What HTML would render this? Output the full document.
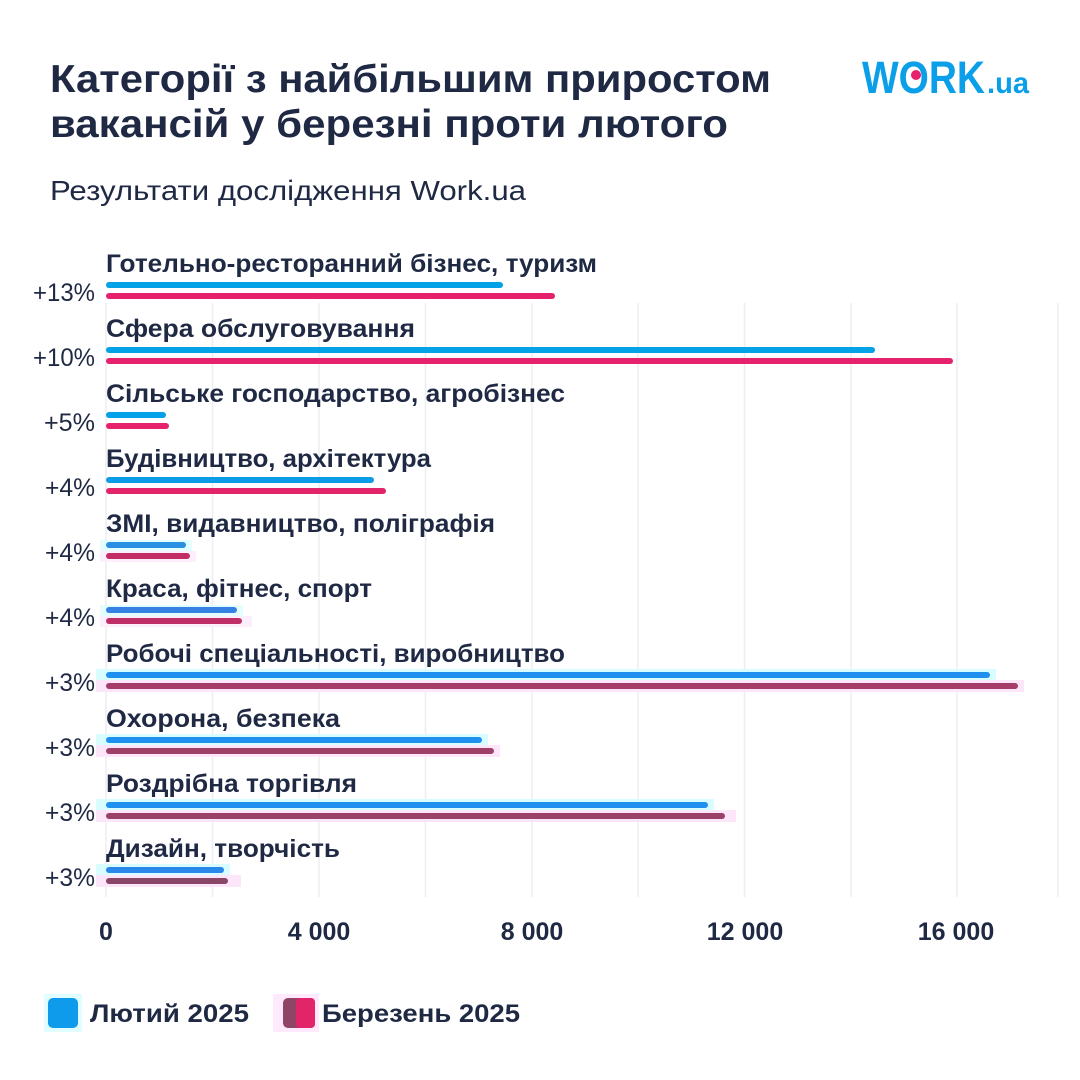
<!DOCTYPE html>
<html>
<head>
<meta charset="utf-8">
<style>
  html,body{margin:0;padding:0;background:#ffffff;}
  svg{display:block;}
  text{font-family:"Liberation Sans","DejaVu Sans",sans-serif;fill:#1f2944;}
</style>
</head>
<body>
<svg width="1080" height="1080" viewBox="0 0 1080 1080" xmlns="http://www.w3.org/2000/svg">
  <rect x="0" y="0" width="1080" height="1080" fill="#ffffff"/>

  <!-- Title -->
  <text x="50" y="92" font-size="39" font-weight="700" textLength="721" lengthAdjust="spacingAndGlyphs">Категорії з найбільшим приростом</text>
  <text x="50" y="137" font-size="39" font-weight="700" textLength="678" lengthAdjust="spacingAndGlyphs">вакансій у березні проти лютого</text>
  <text x="50" y="200" font-size="28" font-weight="400" fill="#27324b" textLength="476" lengthAdjust="spacingAndGlyphs">Результати дослідження Work.ua</text>

  <!-- Logo -->
  <text x="862" y="93" font-size="45" font-weight="700" style="fill:#0a9fe8" textLength="123" lengthAdjust="spacingAndGlyphs">WORK</text>
  <text x="987" y="93" font-size="30" font-weight="700" style="fill:#0a9fe8" textLength="42" lengthAdjust="spacingAndGlyphs">.ua</text>
  <circle cx="916" cy="75" r="5" fill="#e5226b"/>

  <!-- Grid lines -->
  <g stroke="#eeeef1" stroke-width="1.5">
    <line x1="106" y1="303" x2="106" y2="897"/>
    <line x1="212.5" y1="303" x2="212.5" y2="897"/>
    <line x1="319" y1="303" x2="319" y2="897"/>
    <line x1="425.5" y1="303" x2="425.5" y2="897"/>
    <line x1="532" y1="303" x2="532" y2="897"/>
    <line x1="638" y1="303" x2="638" y2="897"/>
    <line x1="744.5" y1="303" x2="744.5" y2="897"/>
    <line x1="851" y1="303" x2="851" y2="897"/>
    <line x1="957" y1="303" x2="957" y2="897"/>
    <line x1="1058" y1="303" x2="1058" y2="897"/>
  </g>

  <!-- Glow bands (rows 5-10) -->
  <g>
    <rect x="100" y="540" width="92" height="11" fill="#e4fdff"/>
    <rect x="100" y="551" width="96" height="11" fill="#fdeefb"/>
    <rect x="100" y="605" width="143" height="11" fill="#e4fdff"/>
    <rect x="100" y="616" width="152" height="11" fill="#fdeefb"/>
    <rect x="96" y="669" width="900" height="11" fill="#d8fcff"/>
    <rect x="96" y="680" width="928" height="12" fill="#fde6fa"/>
    <rect x="96" y="734" width="392" height="11" fill="#d8fcff"/>
    <rect x="96" y="745" width="404" height="12" fill="#fde6fa"/>
    <rect x="96" y="799" width="618" height="11" fill="#d8fcff"/>
    <rect x="96" y="810" width="640" height="12" fill="#fde6fa"/>
    <rect x="96" y="864" width="134" height="11" fill="#d8fcff"/>
    <rect x="96" y="875" width="145" height="12" fill="#fde6fa"/>
  </g>

  <!-- Bars -->
  <g>
    <!-- row 1 -->
    <rect x="106" y="282" width="397" height="6" rx="3" fill="#03a1e6"/>
    <rect x="106" y="293" width="449" height="6" rx="3" fill="#e5226b"/>
    <!-- row 2 -->
    <rect x="106" y="347" width="769" height="6" rx="3" fill="#03a1e6"/>
    <rect x="106" y="358" width="847" height="6" rx="3" fill="#e5226b"/>
    <!-- row 3 -->
    <rect x="106" y="412" width="60" height="6" rx="3" fill="#03a1e6"/>
    <rect x="106" y="423" width="63" height="6" rx="3" fill="#e5226b"/>
    <!-- row 4 -->
    <rect x="106" y="477" width="268" height="6" rx="3" fill="#0a9de6"/>
    <rect x="106" y="488" width="280" height="6" rx="3" fill="#e2246a"/>
    <!-- row 5 -->
    <rect x="106" y="542" width="80" height="6" rx="3" fill="#2a8fe2"/>
    <rect x="106" y="553" width="84" height="6" rx="3" fill="#c22d66"/>
    <!-- row 6 -->
    <rect x="106" y="607" width="131" height="6" rx="3" fill="#3582e2"/>
    <rect x="106" y="618" width="136" height="6" rx="3" fill="#bf2f67"/>
    <!-- row 7 -->
    <rect x="106" y="672" width="884" height="6" rx="3" fill="#1e90ee"/>
    <rect x="106" y="683" width="912" height="6" rx="3" fill="#a63d68"/>
    <!-- row 8 -->
    <rect x="106" y="737" width="376" height="6" rx="3" fill="#1e90ee"/>
    <rect x="106" y="748" width="388" height="6" rx="3" fill="#9e4068"/>
    <!-- row 9 -->
    <rect x="106" y="802" width="602" height="6" rx="3" fill="#1e90ee"/>
    <rect x="106" y="813" width="619" height="6" rx="3" fill="#9a4168"/>
    <!-- row 10 -->
    <rect x="106" y="867" width="118" height="6" rx="3" fill="#2a88ea"/>
    <rect x="106" y="878" width="122" height="6" rx="3" fill="#8a4666"/>
  </g>

  <!-- Category labels -->
  <g font-size="25" font-weight="700">
    <text x="106" y="272" textLength="491" lengthAdjust="spacingAndGlyphs">Готельно-ресторанний бізнес, туризм</text>
    <text x="106" y="337" textLength="309" lengthAdjust="spacingAndGlyphs">Сфера обслуговування</text>
    <text x="106" y="402" textLength="459" lengthAdjust="spacingAndGlyphs">Сільське господарство, агробізнес</text>
    <text x="106" y="467" textLength="325" lengthAdjust="spacingAndGlyphs">Будівництво, архітектура</text>
    <text x="106" y="532" textLength="389" lengthAdjust="spacingAndGlyphs">ЗМІ, видавництво, поліграфія</text>
    <text x="106" y="597" textLength="266" lengthAdjust="spacingAndGlyphs">Краса, фітнес, спорт</text>
    <text x="106" y="662" textLength="459" lengthAdjust="spacingAndGlyphs">Робочі спеціальності, виробництво</text>
    <text x="106" y="727" textLength="234" lengthAdjust="spacingAndGlyphs">Охорона, безпека</text>
    <text x="106" y="792" textLength="251" lengthAdjust="spacingAndGlyphs">Роздрібна торгівля</text>
    <text x="106" y="857" textLength="234" lengthAdjust="spacingAndGlyphs">Дизайн, творчість</text>
  </g>

  <!-- Percent labels -->
  <g font-size="25" font-weight="400">
    <text x="33" y="301" textLength="62" lengthAdjust="spacingAndGlyphs">+13%</text>
    <text x="33" y="366" textLength="62" lengthAdjust="spacingAndGlyphs">+10%</text>
    <text x="44" y="431" textLength="51" lengthAdjust="spacingAndGlyphs">+5%</text>
    <text x="45" y="496" textLength="50" lengthAdjust="spacingAndGlyphs">+4%</text>
    <text x="45" y="561" textLength="50" lengthAdjust="spacingAndGlyphs">+4%</text>
    <text x="45" y="626" textLength="50" lengthAdjust="spacingAndGlyphs">+4%</text>
    <text x="45" y="691" textLength="50" lengthAdjust="spacingAndGlyphs">+3%</text>
    <text x="45" y="756" textLength="50" lengthAdjust="spacingAndGlyphs">+3%</text>
    <text x="45" y="821" textLength="50" lengthAdjust="spacingAndGlyphs">+3%</text>
    <text x="45" y="886" textLength="50" lengthAdjust="spacingAndGlyphs">+3%</text>
  </g>

  <!-- X tick labels -->
  <g font-size="25" font-weight="700" text-anchor="middle">
    <text x="106" y="940">0</text>
    <text x="319" y="940">4 000</text>
    <text x="532" y="940">8 000</text>
    <text x="745" y="940">12 000</text>
    <text x="956" y="940">16 000</text>
  </g>

  <!-- Legend -->
  <rect x="44" y="994" width="38" height="38" fill="#e0fdff"/>
  <rect x="48" y="998" width="30" height="30" rx="5" fill="#0e9bec"/>
  <text x="90" y="1022" font-size="25" font-weight="700" textLength="159" lengthAdjust="spacingAndGlyphs">Лютий 2025</text>

  <rect x="273" y="994" width="46" height="38" fill="#feeafc"/>
  <rect x="283" y="998" width="32" height="30" rx="5" fill="#8f4566"/>
  <rect x="296" y="998" width="19" height="30" rx="4" fill="#e22469"/>
  <text x="322" y="1022" font-size="25" font-weight="700" textLength="198" lengthAdjust="spacingAndGlyphs">Березень 2025</text>
</svg>
</body>
</html>
